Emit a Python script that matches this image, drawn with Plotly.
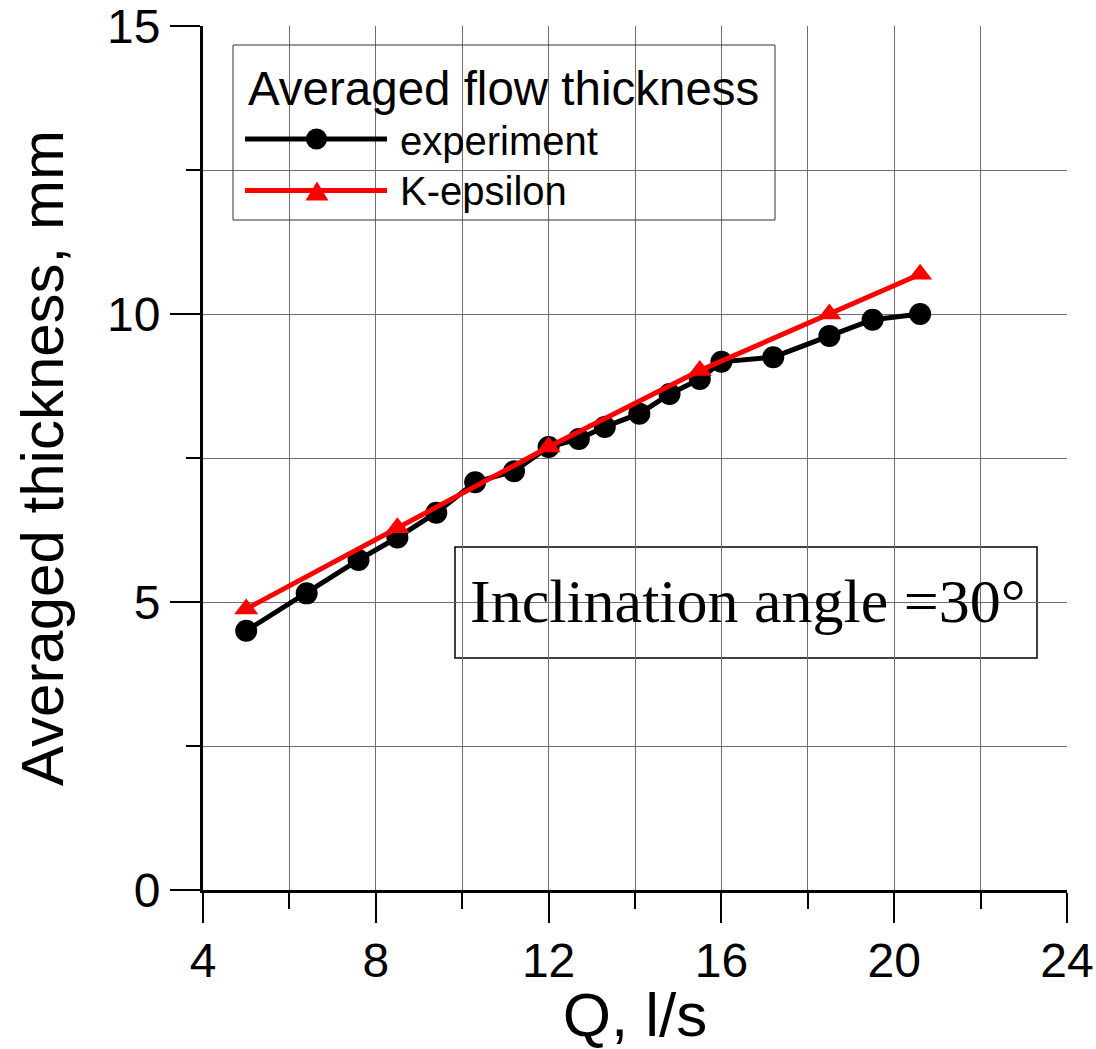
import plotly.graph_objects as go

# Flow rate Q (l/s) and averaged flow thickness (mm)
exp_q = [5.0, 6.4, 7.6, 8.5, 9.4, 10.3, 11.2, 12.0, 12.7, 13.3, 14.1, 14.8, 15.5, 16.0, 17.2, 18.5, 19.5, 20.6]
exp_h = [4.50, 5.15, 5.73, 6.12, 6.55, 7.08, 7.27, 7.69, 7.83, 8.04, 8.27, 8.61, 8.87, 9.17, 9.25, 9.62, 9.90, 10.0]

ke_q = [5.0, 8.5, 12.0, 15.5, 18.5, 20.6]
ke_h = [4.88, 6.29, 7.69, 9.02, 10.0, 10.69]

x_ticks = [4, 8, 12, 16, 20, 24]
y_ticks = [0, 5, 10, 15]

legend_title = "Averaged flow thickness"
series_names = ["experiment", "K-epsilon"]
note_text = "Inclination angle =30°"

SANS = "Liberation Sans, Arial, Helvetica, sans-serif"
SERIF = "Liberation Serif, Times New Roman, serif"
GRID = "#6e6e6e"

fig = go.Figure()

fig.add_trace(go.Scatter(
    x=exp_q, y=exp_h, mode="lines+markers", name=series_names[0],
    line=dict(color="black", width=5),
    marker=dict(symbol="circle", size=22, color="black"),
    showlegend=False, cliponaxis=False,
))
fig.add_trace(go.Scatter(
    x=ke_q, y=ke_h, mode="lines+markers", name=series_names[1],
    line=dict(color="#ff0000", width=5),
    marker=dict(symbol="triangle-up", size=21, color="#ff0000"),
    showlegend=False, cliponaxis=False,
))

axis_common = dict(
    showline=True, linecolor="black", linewidth=3,
    ticks="outside", tickcolor="black", tickwidth=2, ticklen=30,
    showgrid=True, gridcolor=GRID, gridwidth=1,
    zeroline=False, mirror=False, automargin=False,
    ticklabeloverflow="allow",
    tickfont=dict(family=SANS, size=48, color="black"),
)

fig.update_xaxes(
    range=[4, 24], tickmode="array", tickvals=x_ticks, ticktext=[str(v) for v in x_ticks],
    minor=dict(dtick=2, tick0=4, ticks="outside", ticklen=16, tickwidth=2, tickcolor="black",
               showgrid=True, gridcolor=GRID, gridwidth=1),
    ticklabelstandoff=-4,
    title=dict(text="Q, l/s", font=dict(family=SANS, size=62, color="black"), standoff=0),
    **axis_common,
)
fig.update_yaxes(
    range=[0, 15], tickmode="array", tickvals=y_ticks, ticktext=[str(v) for v in y_ticks],
    minor=dict(dtick=2.5, tick0=0, ticks="outside", ticklen=14, tickwidth=2, tickcolor="black",
               showgrid=True, gridcolor=GRID, gridwidth=1),
    title=dict(text="Averaged thickness, mm", font=dict(family=SANS, size=60, color="black"), standoff=25),
    **axis_common,
)

# plot area is 864 x 864 px; helpers convert pixel offsets into paper units
PW = 864.0
def px(v):
    return (v - 203) / PW
def py(v):
    return (890 - v) / PW

shapes = []
annotations = []

# legend frame (transparent, grid stays visible)
shapes.append(dict(type="rect", xref="paper", yref="paper",
                   x0=px(233), x1=px(775), y0=py(220), y1=py(45),
                   line=dict(color="#333333", width=1), fillcolor="rgba(0,0,0,0)", layer="above"))
annotations.append(dict(xref="paper", yref="paper", x=px(246), y=py(89), xanchor="left", yanchor="middle",
                        text=legend_title, showarrow=False,
                        font=dict(family=SANS, size=47.5, color="black")))

# legend entry: experiment
shapes.append(dict(type="line", xref="paper", yref="paper",
                   x0=px(245), x1=px(387), y0=py(139), y1=py(139),
                   line=dict(color="black", width=5), layer="above"))
r = 10.5 / PW
shapes.append(dict(type="circle", xref="paper", yref="paper",
                   x0=px(316.5) - r, x1=px(316.5) + r, y0=py(139) - r, y1=py(139) + r,
                   line=dict(color="black", width=0), fillcolor="black", layer="above"))
annotations.append(dict(xref="paper", yref="paper", x=px(398), y=py(141), xanchor="left", yanchor="middle",
                        text=series_names[0], showarrow=False,
                        font=dict(family=SANS, size=40, color="black")))

# legend entry: K-epsilon
shapes.append(dict(type="line", xref="paper", yref="paper",
                   x0=px(245), x1=px(387), y0=py(190.5), y1=py(190.5),
                   line=dict(color="#ff0000", width=5), layer="above"))
tri = "M {:.5f},{:.5f} L {:.5f},{:.5f} L {:.5f},{:.5f} Z".format(
    px(305.5), py(200.5), px(328.5), py(200.5), px(317), py(181.5))
shapes.append(dict(type="path", xref="paper", yref="paper", path=tri,
                   line=dict(color="#ff0000", width=0), fillcolor="#ff0000", layer="above"))
annotations.append(dict(xref="paper", yref="paper", x=px(398), y=py(191), xanchor="left", yanchor="middle",
                        text=series_names[1], showarrow=False,
                        font=dict(family=SANS, size=40, color="black")))

# note box (opaque, hides the grid underneath)
shapes.append(dict(type="rect", xref="paper", yref="paper",
                   x0=px(455), x1=px(1037), y0=py(658), y1=py(547),
                   line=dict(color="black", width=1.5), fillcolor="white", layer="between"))
annotations.append(dict(xref="paper", yref="paper", x=px(748), y=py(601), xanchor="center", yanchor="middle",
                        text=note_text, showarrow=False,
                        font=dict(family=SERIF, size=62, color="black")))

fig.update_layout(
    width=1096, height=1049,
    margin=dict(l=203, r=29, t=26, b=159, pad=0, autoexpand=False),
    paper_bgcolor="white", plot_bgcolor="white",
    shapes=shapes, annotations=annotations,
    showlegend=False,
)

fig.write_html("out.html")
